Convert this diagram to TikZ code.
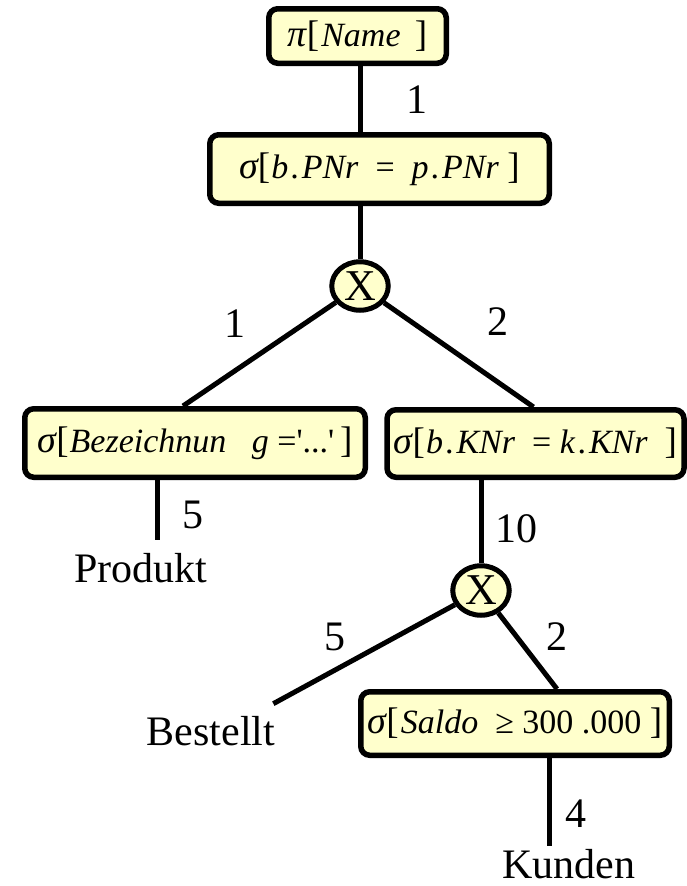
\documentclass[tikz,border=0pt]{standalone}
\usepackage{fontspec}
\setmainfont{Liberation Serif}
\usetikzlibrary{calc,shapes.geometric}
\definecolor{opfill}{HTML}{FFFFCC}
\newcommand{\grk}[1]{{\fontsize{38}{40}\selectfont\itshape #1}}
\newcommand{\brk}[1]{{\fontsize{37}{40}\selectfont #1}}
\newcommand{\dt}{\kern2pt.\kern3pt}
\tikzset{
  opbox/.style={draw=black, line width=5.5pt, fill=opfill, rounded corners=9pt,
    inner sep=0pt, font=\fontsize{34}{36}\selectfont},
  joinnode/.style={ellipse, draw=black, line width=5pt, fill=opfill, inner sep=0pt,
    font=\fontsize{44}{46}\selectfont},
  edge/.style={line width=5pt},
  lbl/.style={font=\fontsize{42}{44}\selectfont, inner sep=0pt, anchor=base},
}
\begin{document}
\begin{tikzpicture}[x=1pt,y=-1pt]
\useasboundingbox (0,0) rectangle (686,886);
% operator boxes
\node[opbox, minimum width=177.5pt, minimum height=54.5pt] (top) at (357.5,36)
  {\grk{π}\brk{[}\kern2pt\textit{Name}\ \,\brk{]}};
\node[opbox, minimum width=339.5pt, minimum height=68.5pt] (sec) at (379.5,169)
  {\grk{σ}\brk{[}\kern1pt\textit{b}\dt\textit{PNr}\ \ =\ \ \textit{p}\dt\textit{PNr}\ \brk{]}};
\node[opbox, minimum width=340.5pt, minimum height=68.5pt] (left) at (195,443)
  {\grk{σ}\brk{[}\kern1pt\textit{Bezeichnun}\ \ \ \textit{g}\ =\textquotesingle...\textquotesingle\,\brk{]}};
\node[opbox, minimum width=297pt, minimum height=67.5pt] (right) at (535.5,443.5)
  {\grk{σ}\brk{[}\kern1pt\textit{b}\dt\textit{KNr}\ \ =\ \textit{k}\dt\textit{KNr}\ \ \brk{]}};
\node[opbox, minimum width=308.5pt, minimum height=63.5pt] (saldo) at (515,723.5)
  {\grk{σ}\brk{[}\kern2pt\textit{Saldo}\ \ ≥\ 300\ .000\ \brk{]}};
% join nodes
\node[joinnode, minimum width=56.5pt, minimum height=48.5pt] (c1) at (360,286) {X};
\node[joinnode, minimum width=56.5pt, minimum height=49.5pt] (c2) at (481,590.5) {X};
% relation names
\node[lbl] (produkt) at (141,582) {Produkt};
\node[lbl] (best) at (211,745) {Bestellt};
\node[lbl] (kunden) at (569,878) {Kunden};
% helper coordinates on box borders
\coordinate (pa) at ($(left.south)+(-38,0)$);
\coordinate (ka) at ($(saldo.south)+(34,0)$);
% connectors
\draw[edge] (top.south -| c1) -- (sec.north -| c1);
\draw[edge] (sec.south -| c1) -- (c1);
\draw[edge] (c1) -- ($(left.north)+(-12,0)$);
\draw[edge] (c1) -- ($(right.north)+(-2,0)$);
\draw[edge, shorten >=13pt] (pa) -- (pa |- produkt.north);
\draw[edge] (right.south -| c2) -- (c2);
\draw[edge] (c2) -- ([shift={(-2,-12)}]best.north east);
\draw[edge] (c2) -- ($(saldo.north)+(42,0)$);
\draw[edge, shorten >=3pt] (ka) -- (ka |- kunden.north);
% cardinality labels
\node[lbl] (l1) at (417,113) {1};
\node[lbl] (l2) at (235,337) {1};
\node[lbl] (l3) at (498,335) {2};
\node[lbl] (l4) at (193,528) {5};
\node[lbl] (l5) at (516,542) {10};
\node[lbl] (l6) at (335,650) {5};
\node[lbl] (l7) at (557,650) {2};
\node[lbl] (l8) at (576,827) {4};
\end{tikzpicture}
\end{document}
